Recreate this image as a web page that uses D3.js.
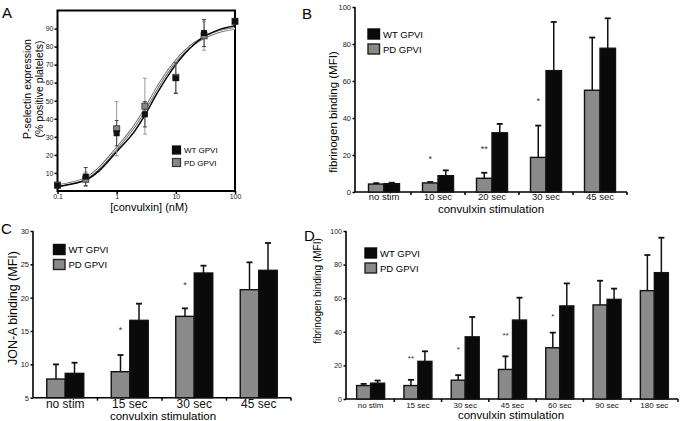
<!DOCTYPE html>
<html><head><meta charset="utf-8">
<script src="https://cdn.jsdelivr.net/npm/d3@7"></script>
<style>body{margin:0;background:#fff}svg{display:block;font-family:"Liberation Sans",Arial,Helvetica,sans-serif}</style>
</head><body><svg id="c" width="680" height="421"></svg>
<script>
// ---------- DATA ----------
const seriesNames = ["WT GPVI", "PD GPVI"];

// Panel A: dose response
const aDose = [0.1, 0.3, 1, 3, 10, 30, 100];
const aWT = [3, 8, 32, 42.5, 62.5, 87.5, 94];
const aWTerr = [1, 5, 7, 7, 8.5, 7.5, 1];
const aPD = [3.3, 6.5, 34.5, 47, 63, 86, 94];
const aPDerr = [1, 4, 15, 15.5, 8.5, 8, 1];
const aFitX = [0.1, 0.2, 0.3, 0.5, 1, 2, 3, 5, 10, 20, 30, 50, 100];
const aFitWT = [2.5, 4.3, 6, 11, 21.8, 33, 42, 55, 70, 81, 85.5, 89, 91.5];
const aFitPD = [3, 5, 7, 12.5, 23.7, 36, 45, 58, 72, 81.5, 85, 88, 90];
const aYTicks = [10, 20, 30, 40, 50, 60, 70, 80, 90];
const aXTicks = [0.1, 1, 10, 100];

// Panel B: fibrinogen binding
const bCats = ["no stim", "10 sec", "20 sec", "30 sec", "45 sec"];
const bPD = [4.3, 4.9, 7.4, 18.7, 55];
const bPDerr = [0.5, 0.5, 3, 17.2, 28.5];
const bWT = [4.5, 8.8, 32, 65.6, 77.7];
const bWTerr = [0.5, 2.9, 4.8, 26.3, 16.2];
const bStarCats = ["10 sec", "20 sec", "30 sec"];
const bStarLabels = ["*", "**", "*"];
const bStarLevels = [18.9, 24.3, 50.3];
const bYTicks = [0, 20, 40, 60, 80, 100];

// Panel C: JON-A binding
const cCats = ["no stim", "15 sec", "30 sec", "45 sec"];
const cPD = [7.8, 8.9, 17.2, 21.2];
const cPDerr = [2.2, 2.5, 1.2, 4.1];
const cWT = [8.65, 16.6, 23.7, 24.1];
const cWTerr = [1.6, 2.5, 1.1, 4.1];
const cStarCats = ["15 sec", "30 sec"];
const cStarLabels = ["*", "*"];
const cStarLevels = [15.5, 22.3];
const cYTicks = [5, 10, 15, 20, 25, 30];

// Panel D: fibrinogen binding time course
const dCats = ["no stim", "15 sec", "30 sec", "45 sec", "60 sec", "90 sec", "180 sec"];
const dPD = [8, 8, 11.2, 17.6, 30.5, 56, 64.5];
const dPDerr = [1, 3.4, 3, 7.8, 9, 14.4, 21.2];
const dWT = [9.4, 22.4, 37, 47, 55.4, 59.3, 75.2];
const dWTerr = [1.6, 6, 11.8, 13.3, 13.4, 6.4, 20.8];
const dStarCats = ["15 sec", "30 sec", "45 sec", "60 sec"];
const dStarLabels = ["**", "*", "**", "*"];
const dStarLevels = [25.2, 30.5, 39.1, 50.6];
const dYTicks = [0, 20, 40, 60, 80, 100];

// ---------- DRAW ----------
const svg = d3.select("#c");
const GRAY = "#8a8a8a", BLACK = "#0a0a0a", EDGE = "#111";

function panelLetter(t, x, y) {
  svg.append("text").attr("x", x).attr("y", y).attr("font-size", 15).text(t);
}

// ===== Panel A =====
(function () {
  const x = d3.scaleLog().domain([0.1, 100]).range([57.5, 235]);
  const y = d3.scaleLinear().domain([0, 100]).range([191, 10.5]);
  const g = svg.append("g");
  const yAx = g.append("g").attr("transform", `translate(${x(0.1)},0)`)
    .call(d3.axisLeft(y).tickValues(aYTicks).tickSize(3).tickPadding(1));
  const xAx = g.append("g").attr("transform", `translate(0,${y(0)})`)
    .call(d3.axisBottom(x).tickValues(aXTicks).tickFormat(d => String(d)).tickSize(3).tickPadding(0));
  [yAx, xAx].forEach(a => { a.select(".domain").remove(); a.selectAll("text").attr("font-size", 7).attr("fill", "#222"); a.selectAll("line").attr("stroke-width", 1.5); });
  g.append("rect").attr("x", x(0.1)).attr("y", y(100)).attr("width", x(100) - x(0.1))
    .attr("height", y(0) - y(100)).attr("fill", "none").attr("stroke", "#000").attr("stroke-width", 2);

  const line = d3.line().x(d => x(d[0])).y(d => y(d[1])).curve(d3.curveMonotoneX);
  const pdPts = aFitX.map((v, i) => [v, aFitPD[i]]);
  const wtPts = aFitX.map((v, i) => [v, aFitWT[i]]);
  g.append("path").attr("d", line(pdPts)).attr("fill", "none").attr("stroke", "#666").attr("stroke-width", 2.6);
  g.append("path").attr("d", line(pdPts)).attr("fill", "none").attr("stroke", "#fff").attr("stroke-width", 1);
  g.append("path").attr("d", line(wtPts)).attr("fill", "none").attr("stroke", "#000").attr("stroke-width", 1.5);

  function errs(vals, errsArr, col) {
    aDose.forEach((d, i) => {
      const cx = x(d), y1 = y(vals[i] - errsArr[i]), y2 = y(vals[i] + errsArr[i]);
      g.append("line").attr("x1", cx).attr("x2", cx).attr("y1", y1).attr("y2", y2).attr("stroke", col).attr("stroke-width", 1);
      [y1, y2].forEach(yy => g.append("line").attr("x1", cx - 2).attr("x2", cx + 2).attr("y1", yy).attr("y2", yy).attr("stroke", col).attr("stroke-width", 1));
    });
  }
  errs(aPD, aPDerr, "#999");
  errs(aWT, aWTerr, "#444");
  const s = 6;
  aDose.forEach((d, i) => {
    g.append("rect").attr("x", x(d) - s / 2).attr("y", y(aPD[i]) - s / 2).attr("width", s).attr("height", s)
      .attr("fill", "#888").attr("stroke", "#444").attr("stroke-width", 1);
  });
  aDose.forEach((d, i) => {
    g.append("rect").attr("x", x(d) - s / 2).attr("y", y(aWT[i]) - s / 2).attr("width", s).attr("height", s)
      .attr("fill", "#111");
  });
  const lg = [[BLACK, BLACK], ["#888", "#333"]];
  seriesNames.forEach((n, i) => {
    g.append("rect").attr("x", 172.5).attr("y", 146 + i * 12.5).attr("width", 8).attr("height", 8)
      .attr("fill", lg[i][0]).attr("stroke", lg[i][1]).attr("stroke-width", 1.2);
    g.append("text").attr("x", 184).attr("y", 153 + i * 12.5).attr("font-size", 8).text(n);
  });
  g.append("text").attr("x", 149).attr("y", 210.5).attr("text-anchor", "middle").attr("font-size", 11).text("[convulxin] (nM)");
  g.append("text").attr("transform", "translate(31,89) rotate(-90)").attr("text-anchor", "middle").attr("font-size", 10.5).text("P-selectin expression");
  g.append("text").attr("transform", "translate(42.5,89) rotate(-90)").attr("text-anchor", "middle").attr("font-size", 10.5).text("(% positive platelets)");
  panelLetter("A", 2, 18);
})();

// ===== Bar panels =====
function barPanel(o) {
  const g = svg.append("g");
  const x = d3.scaleBand().domain(o.cats).range(o.xr).paddingInner(0).paddingOuter(0);
  const y = d3.scaleLinear().domain(o.yd).range(o.yr);
  const bw = o.barW;
  const yAx = g.append("g").attr("transform", `translate(${o.axisX},0)`)
    .call(d3.axisLeft(y).tickValues(o.yTicks).tickSize(2.5).tickPadding(1.5));
  yAx.select(".domain").attr("stroke-width", 1.6).attr("d", `M0,${y(o.yd[1])}V${y(o.yd[0])}`);
  yAx.selectAll("line").attr("stroke-width", 1.5);
  yAx.selectAll("text").attr("font-size", o.yTickFs).attr("fill", "#222");
  const xAx = g.append("g").attr("transform", `translate(0,${y(o.yd[0])})`)
    .call(d3.axisBottom(x).tickSize(0).tickPadding(o.xTickPad));
  xAx.select(".domain").attr("stroke-width", 1.6).attr("d", `M${o.axisX},0H${o.xr[1]}`);
  xAx.selectAll("text").attr("font-size", o.xTickFs).attr("fill", "#111");
  o.cats.forEach(c => {
    const bx = x(c) + x.bandwidth();
    g.append("line").attr("x1", bx).attr("x2", bx).attr("y1", y(o.yd[0])).attr("y2", y(o.yd[0]) + 3)
      .attr("stroke", "#000").attr("stroke-width", 1.5);
  });
  const base = y(o.yd[0]);
  function bars(vals, errsArr, fill, off) {
    o.cats.forEach((c, i) => {
      const cx = x(c) + x.bandwidth() / 2 + off;
      const top = y(vals[i]), cap = y(vals[i] + errsArr[i]);
      g.append("line").attr("x1", cx).attr("x2", cx).attr("y1", top).attr("y2", cap).attr("stroke", "#111").attr("stroke-width", 1.5);
      g.append("line").attr("x1", cx - 3).attr("x2", cx + 3).attr("y1", cap).attr("y2", cap).attr("stroke", "#111").attr("stroke-width", 1.8);
      g.append("rect").attr("x", cx - bw / 2).attr("y", top).attr("width", bw).attr("height", base - top)
        .attr("fill", fill).attr("stroke", EDGE).attr("stroke-width", 1.4);
    });
  }
  bars(o.pd, o.pdErr, GRAY, -bw / 2);
  bars(o.wt, o.wtErr, BLACK, bw / 2);
  o.starCats.forEach((c, i) => {
    g.append("text").attr("x", x(c) + x.bandwidth() / 2 - bw / 2)
      .attr("y", y(o.starLevels[i]) + 0.58 * o.starFs).attr("text-anchor", "middle")
      .attr("font-size", o.starFs).attr("fill", "#333").text(o.starLabels[i]);
  });
  const lg = [[BLACK, BLACK], [GRAY, "#222"]];
  seriesNames.forEach((n, i) => {
    g.append("rect").attr("x", o.leg[0]).attr("y", o.leg[1] + i * o.leg[3]).attr("width", 11.5).attr("height", 10)
      .attr("fill", lg[i][0]).attr("stroke", lg[i][1]).attr("stroke-width", 1.4);
    g.append("text").attr("x", o.leg[0] + 15).attr("y", o.leg[1] + 8.8 + i * o.leg[3]).attr("font-size", o.leg[2]).text(n);
  });
  g.append("text").attr("x", o.xLab[0]).attr("y", o.xLab[1]).attr("text-anchor", "middle").attr("font-size", o.xLab[2]).text("convulxin stimulation");
  g.append("text").attr("transform", `translate(${o.yLab[0]},${o.yLab[1]}) rotate(-90)`).attr("text-anchor", "middle")
    .attr("font-size", o.yLab[2]).text(o.yLabel);
  panelLetter(o.letter, o.lp[0], o.lp[1]);
}

barPanel({
  cats: bCats, pd: bPD, pdErr: bPDerr, wt: bWT, wtErr: bWTerr,
  starCats: bStarCats, starLabels: bStarLabels, starLevels: bStarLevels, starFs: 9,
  xr: [357, 627], axisX: 355, yd: [0, 100], yr: [192, 7], yTicks: bYTicks, barW: 15.5,
  yTickFs: 7.5, xTickFs: 9.5, xTickPad: 1.5,
  leg: [368, 29, 9.5, 15], xLab: [491, 213, 11.5], yLab: [337, 112, 11.5],
  yLabel: "fibrinogen binding (MFI)", letter: "B", lp: [302, 19]
});
barPanel({
  cats: cCats, pd: cPD, pdErr: cPDerr, wt: cWT, wtErr: cWTerr,
  starCats: cStarCats, starLabels: cStarLabels, starLevels: cStarLevels, starFs: 9,
  xr: [33, 291], axisX: 33, yd: [5, 30], yr: [397.7, 231], yTicks: cYTicks, barW: 18.5,
  yTickFs: 7.5, xTickFs: 12, xTickPad: 1.5,
  leg: [53.5, 244.5, 9.5, 15], xLab: [163, 419.5, 11.5], yLab: [17, 308, 12.5],
  yLabel: "JON-A binding (MFI)", letter: "C", lp: [1, 234]
});
barPanel({
  cats: dCats, pd: dPD, pdErr: dPDerr, wt: dWT, wtErr: dWTerr,
  starCats: dStarCats, starLabels: dStarLabels, starLevels: dStarLevels, starFs: 8,
  xr: [347, 678], axisX: 346, yd: [0, 100], yr: [399, 231], yTicks: dYTicks, barW: 14,
  yTickFs: 7, xTickFs: 8, xTickPad: 3,
  leg: [365, 248, 9.5, 15], xLab: [511, 419, 11.5], yLab: [321, 291, 10],
  yLabel: "fibrinogen binding (MFI)", letter: "D", lp: [304, 241]
});
</script></body></html>
